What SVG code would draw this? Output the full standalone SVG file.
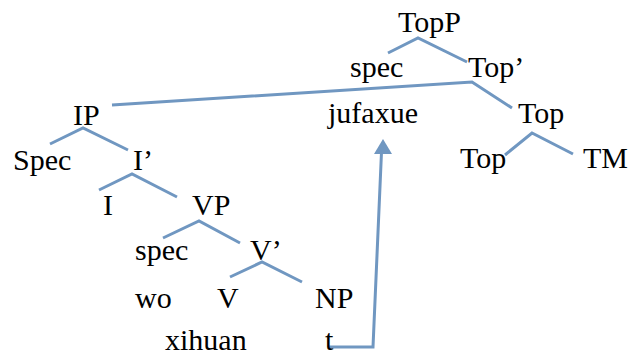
<svg xmlns="http://www.w3.org/2000/svg" width="629" height="355" viewBox="0 0 629 355">
  <style>
    .lbl { font-family: 'Liberation Serif', 'Times New Roman', Times, serif; font-size: 30px; fill: #000; }
    .branch { stroke: #7097C1; stroke-width: 3; fill: none; }
    .head { fill: #7097C1; }
  </style>
  <rect width="629" height="355" fill="#fff"/>

  <g id="connectors">
    <!-- TopP -->
    <polyline class="branch" points="388,53 418,38 467,62"/>
    <!-- Top' : long arm to IP and arm to Top -->
    <polyline class="branch" points="112,105 472,82 512,108"/>
    <!-- Top -->
    <polyline class="branch" points="505,155 532,133 573,154"/>
    <!-- IP -->
    <polyline class="branch" points="50,144 83,128 128,150"/>
    <!-- I' -->
    <polyline class="branch" points="99,190 132,174 177,197"/>
    <!-- VP -->
    <polyline class="branch" points="163,238 199,221 240,243"/>
    <!-- V' -->
    <polyline class="branch" points="230,277 262,262 302,282"/>
    <!-- movement of the object trace up to jufaxue -->
    <polyline class="branch" points="329,347 373,347 381.5,152"/>
    <polygon class="head" points="383,139 392,154 374,154"/>
  </g>

  <g class="lbl" font-family="Liberation Serif, serif">
    <g id="n-topp"><text x="398" y="32">TopP</text></g>
    <g id="n-spec-top"><text x="350" y="77">spec</text></g>
    <g id="n-topbar"><text x="468" y="77">Top’</text></g>
    <g id="n-jufaxue"><text x="328" y="123">jufaxue</text></g>
    <g id="n-top"><text x="518" y="123">Top</text></g>
    <g id="n-top-head"><text x="460" y="168">Top</text></g>
    <g id="n-tm"><text x="583" y="168">TM</text></g>
    <g id="n-ip"><text x="73" y="125">IP</text></g>
    <g id="n-spec-ip"><text x="13" y="170">Spec</text></g>
    <g id="n-ibar"><text x="133" y="170">I’</text></g>
    <g id="n-i"><text x="103" y="215">I</text></g>
    <g id="n-vp"><text x="192" y="215">VP</text></g>
    <g id="n-spec-vp"><text x="135" y="260">spec</text></g>
    <g id="n-vbar"><text x="250" y="260">V’</text></g>
    <g id="n-wo"><text x="135" y="308">wo</text></g>
    <g id="n-v"><text x="217" y="308">V</text></g>
    <g id="n-np"><text x="315" y="308">NP</text></g>
    <g id="n-xihuan"><text x="165" y="350">xihuan</text></g>
    <g id="n-t"><text x="325" y="350">t</text></g>
  </g>
</svg>
